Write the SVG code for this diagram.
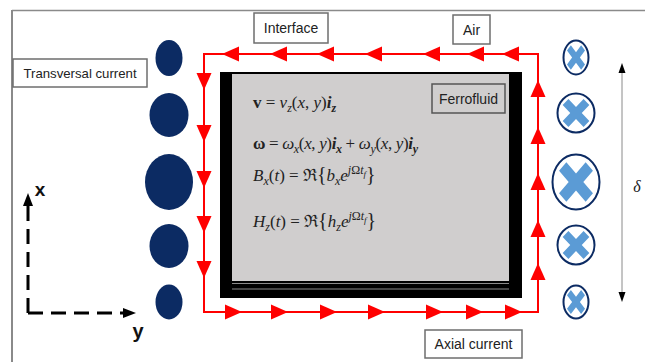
<svg xmlns="http://www.w3.org/2000/svg" xmlns:xlink="http://www.w3.org/1999/xlink" width="645" height="362" viewBox="0 0 645 362">
<style>
.lbl{font-family:"Liberation Sans",Arial,sans-serif;font-size:14px;fill:#222;text-anchor:middle}
.box{fill:#fff;stroke:#6e6e6e;stroke-width:1.5}
.eq{font-family:"Liberation Serif","DejaVu Serif",serif;font-size:17px;fill:#222}
.it{font-style:italic}
.b{font-weight:bold}
.sub{font-size:12px}
.sup{font-size:12px}
.ssub{font-size:9px}
.br{font-size:20px}
.ccol{fill:#0c2b63}
.xcirc{fill:#fff;stroke:#0c2b63;stroke-width:2}
.xmark{fill:#5b9bd5}
.red{fill:none;stroke:#ff0000;stroke-width:2}
.axis{fill:none;stroke:#000;stroke-width:3;stroke-dasharray:15 8}
</style>
<defs>
<path id="ah" d="M0,0 L-17,-7.5 L-17,7.5 Z" fill="#ff0000"/>
<path id="xm" d="M-0.22,-0.8 L0.22,-0.8 L0.22,-0.22 L0.8,-0.22 L0.8,0.22 L0.22,0.22 L0.22,0.8 L-0.22,0.8 L-0.22,0.22 L-0.8,0.22 L-0.8,-0.22 L-0.22,-0.22 Z" transform="rotate(45)"/>
</defs>
<rect width="645" height="362" fill="#fff"/>
<g id="frame">
<line x1="12" y1="10.5" x2="645" y2="10.5" stroke="#8a8a8a" stroke-width="1.5"/>
<line x1="12" y1="10" x2="12" y2="362" stroke="#8a8a8a" stroke-width="2"/>
</g>
<g id="ferrofluid-body">
<rect x="220" y="72" width="302" height="226" fill="#000"/>
<rect x="232" y="74" width="277" height="207" fill="#d0cece"/>
<line x1="232" y1="283.5" x2="509" y2="283.5" stroke="#8a8a8a" stroke-width="1"/>
<line x1="232" y1="289" x2="509" y2="289" stroke="#8a8a8a" stroke-width="1"/>
</g>
<g id="equations">
<text class="eq" x="253" y="108"><tspan class="b">v</tspan> = <tspan class="it">v</tspan><tspan class="sub it" dy="4">z</tspan><tspan dy="-4">(</tspan><tspan class="it">x</tspan>, <tspan class="it">y</tspan>)<tspan class="b it">i</tspan><tspan class="sub b it" dy="4">z</tspan></text>
<text class="eq" x="253" y="149" textLength="165"><tspan class="b">ω</tspan> = <tspan class="it">ω</tspan><tspan class="sub it" dy="4">x</tspan><tspan dy="-4">(</tspan><tspan class="it">x</tspan>, <tspan class="it">y</tspan>)<tspan class="b it">i</tspan><tspan class="sub b it" dy="4">x</tspan><tspan dy="-4"> + </tspan><tspan class="it">ω</tspan><tspan class="sub it" dy="4">y</tspan><tspan dy="-4">(</tspan><tspan class="it">x</tspan>, <tspan class="it">y</tspan>)<tspan class="b it">i</tspan><tspan class="sub b it" dy="4">y</tspan></text>
<text class="eq" x="253" y="181"><tspan class="it">B</tspan><tspan class="sub it" dy="4">x</tspan><tspan dy="-4">(</tspan><tspan class="it">t</tspan>) = ℜ<tspan class="br">{</tspan><tspan class="it">b</tspan><tspan class="sub it" dy="4">x</tspan><tspan class="it" dy="-4">e</tspan><tspan class="sup it" dy="-7">j</tspan><tspan class="sup">Ω</tspan><tspan class="sup it">t</tspan><tspan class="ssub it" dy="3">f</tspan><tspan class="br" dy="4">}</tspan></text>
<text class="eq" x="253" y="227"><tspan class="it">H</tspan><tspan class="sub it" dy="4">z</tspan><tspan dy="-4">(</tspan><tspan class="it">t</tspan>) = ℜ<tspan class="br">{</tspan><tspan class="it">h</tspan><tspan class="sub it" dy="4">z</tspan><tspan class="it" dy="-4">e</tspan><tspan class="sup it" dy="-7">j</tspan><tspan class="sup">Ω</tspan><tspan class="sup it">t</tspan><tspan class="ssub it" dy="3">f</tspan><tspan class="br" dy="4">}</tspan></text>
</g>
<g id="connectors">
<path class="red" d="M538,54 L204,54 L204,312 L538,312 Z"/>
<use xlink:href="#ah" transform="translate(222,54) rotate(180)"/>
<use xlink:href="#ah" transform="translate(270,54) rotate(180)"/>
<use xlink:href="#ah" transform="translate(317,54) rotate(180)"/>
<use xlink:href="#ah" transform="translate(365,54) rotate(180)"/>
<use xlink:href="#ah" transform="translate(423,54) rotate(180)"/>
<use xlink:href="#ah" transform="translate(467,54) rotate(180)"/>
<use xlink:href="#ah" transform="translate(502,54) rotate(180)"/>
<use xlink:href="#ah" transform="translate(204,90) rotate(90)"/>
<use xlink:href="#ah" transform="translate(204,142) rotate(90)"/>
<use xlink:href="#ah" transform="translate(204,188) rotate(90)"/>
<use xlink:href="#ah" transform="translate(204,233) rotate(90)"/>
<use xlink:href="#ah" transform="translate(204,278) rotate(90)"/>
<use xlink:href="#ah" transform="translate(242,312)"/>
<use xlink:href="#ah" transform="translate(288,312)"/>
<use xlink:href="#ah" transform="translate(337,312)"/>
<use xlink:href="#ah" transform="translate(385,312)"/>
<use xlink:href="#ah" transform="translate(443,312)"/>
<use xlink:href="#ah" transform="translate(483,312)"/>
<use xlink:href="#ah" transform="translate(522,312)"/>
<use xlink:href="#ah" transform="translate(538,263) rotate(-90)"/>
<use xlink:href="#ah" transform="translate(538,220) rotate(-90)"/>
<use xlink:href="#ah" transform="translate(538,173) rotate(-90)"/>
<use xlink:href="#ah" transform="translate(538,127) rotate(-90)"/>
<use xlink:href="#ah" transform="translate(538,80) rotate(-90)"/>
</g>
<g id="transversal-currents">
<ellipse class="ccol" cx="169" cy="58" rx="13.5" ry="18"/>
<ellipse class="ccol" cx="169" cy="115" rx="19.5" ry="22"/>
<ellipse class="ccol" cx="169" cy="182" rx="24" ry="28"/>
<ellipse class="ccol" cx="169" cy="246" rx="19.5" ry="22"/>
<ellipse class="ccol" cx="169" cy="302" rx="13.5" ry="17.5"/>
</g>
<g id="axial-currents">
<ellipse class="xcirc" cx="576" cy="57.5" rx="12.5" ry="17"/>
<use class="xmark" xlink:href="#xm" transform="translate(576,57.5) scale(12.5,17)"/>
<ellipse class="xcirc" cx="576" cy="113" rx="18.5" ry="19.5"/>
<use class="xmark" xlink:href="#xm" transform="translate(576,113) scale(18.5,19.5)"/>
<ellipse class="xcirc" cx="576" cy="182" rx="23.5" ry="27.5"/>
<use class="xmark" xlink:href="#xm" transform="translate(576,182) scale(23.5,27.5)"/>
<ellipse class="xcirc" cx="576" cy="245" rx="18.5" ry="19.5"/>
<use class="xmark" xlink:href="#xm" transform="translate(576,245) scale(18.5,19.5)"/>
<ellipse class="xcirc" cx="576" cy="302" rx="12.5" ry="16.5"/>
<use class="xmark" xlink:href="#xm" transform="translate(576,302) scale(12.5,16.5)"/>
</g>
<g id="delta">
<line x1="622" y1="72" x2="622" y2="293" stroke="#8a8a8a" stroke-width="1"/>
<path d="M622,63 L618.5,73 L625.5,73 Z" fill="#000"/>
<path d="M622,302 L618.5,292 L625.5,292 Z" fill="#000"/>
<text x="637" y="192" font-family="Liberation Serif,serif" font-style="italic" font-size="16" fill="#222" text-anchor="middle">δ</text>
</g>
<g id="axes">
<path class="axis" d="M28,313 L28,205"/>
<path class="axis" d="M28,313 L124,313"/>
<path d="M28,193 L23,206 L33,206 Z" fill="#000"/>
<path d="M136,313 L123,308 L123,318 Z" fill="#000"/>
<text x="40" y="196" font-family="Liberation Sans,Arial,sans-serif" font-weight="bold" font-size="19" fill="#111" text-anchor="middle">x</text>
<text x="138" y="338" font-family="Liberation Sans,Arial,sans-serif" font-weight="bold" font-size="20" fill="#111" text-anchor="middle">y</text>
</g>
<g id="label-interface">
<rect class="box" x="254" y="13" width="74" height="30"/>
<text class="lbl" x="291" y="33">Interface</text>
</g>
<g id="label-air">
<rect class="box" x="453" y="15" width="37" height="29"/>
<text class="lbl" x="471.5" y="34.5">Air</text>
</g>
<g id="label-ferrofluid">
<rect class="box" x="432" y="84" width="73" height="29" style="fill:#d0cece;stroke:#555"/>
<text class="lbl" x="468.5" y="103.5">Ferrofluid</text>
</g>
<g id="label-transversal">
<rect class="box" x="13" y="59" width="134" height="28"/>
<text class="lbl" x="80" y="78" style="font-size:13.2px">Transversal current</text>
</g>
<g id="label-axial">
<rect class="box" x="425" y="330" width="97" height="28"/>
<text class="lbl" x="473.5" y="349">Axial current</text>
</g>
</svg>
